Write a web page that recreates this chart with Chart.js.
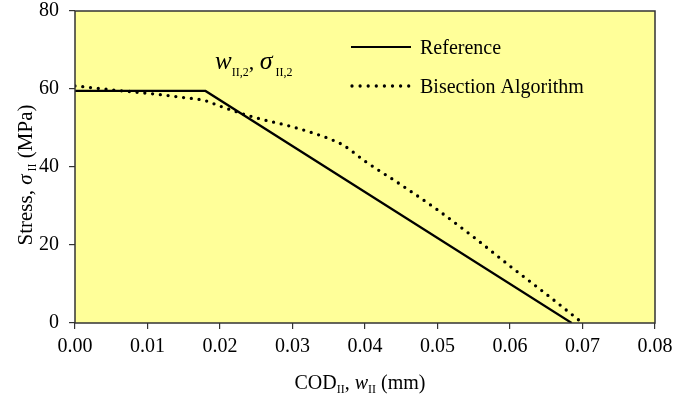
<!DOCTYPE html>
<html>
<head>
<meta charset="utf-8">
<script src="https://cdn.jsdelivr.net/npm/chart.js@4"></script>
<style>
  html, body { margin: 0; padding: 0; background: #fff; }
  #wrap { width: 688px; height: 395px; }
</style>
</head>
<body>
<div id="wrap"><canvas id="c"></canvas></div>
<script>
// data
const refX = [0, 0.018, 0.0685];
const refY = [59.5, 59.5, 0];
const bisX = [0, 0.005, 0.01, 0.015, 0.018, 0.02, 0.025, 0.03, 0.035, 0.037, 0.04, 0.045, 0.05, 0.055, 0.06, 0.065, 0.07];
const bisY = [60.8, 59.8, 58.9, 57.8, 57.0, 55.6, 52.6, 50.3, 47.3, 45.6, 41.5, 35.4, 29.0, 22.0, 14.6, 7.4, 0];
const xTicks = [0, 0.01, 0.02, 0.03, 0.04, 0.05, 0.06, 0.07, 0.08];
const yTicks = [0, 20, 40, 60, 80];

const serif = '"Liberation Serif", "Times New Roman", serif';

function pts(xs, ys) {
    return xs.map((x, i) => ({ x: x, y: ys[i] }));
}

// yellow plot area + box frame
const frame = {
    id: 'frame',
    beforeDatasetsDraw(chart) {
        const a = chart.chartArea, ctx = chart.ctx;
        ctx.save();
        ctx.fillStyle = '#ffff99';
        ctx.fillRect(a.left, a.top, a.right - a.left, a.bottom - a.top);
        ctx.restore();
    },
    afterDatasetsDraw(chart) {
        const a = chart.chartArea, ctx = chart.ctx;
        ctx.save();
        ctx.strokeStyle = '#333';
        ctx.lineWidth = 1.5;
        ctx.strokeRect(a.left, a.top, a.right - a.left, a.bottom - a.top);
        ctx.restore();
    }
};

// text with subscripts: parts = [[text, font, dy]]
function drawParts(ctx, parts, x, y, align) {
    let total = 0;
    parts.forEach(p => { ctx.font = p[1]; total += ctx.measureText(p[0]).width; });
    let cx = align === 'center' ? x - total / 2 : x;
    parts.forEach(p => {
        ctx.font = p[1];
        ctx.fillText(p[0], cx, y + (p[2] || 0));
        cx += ctx.measureText(p[0]).width;
    });
}

const labels = {
    id: 'labels',
    afterDraw(chart) {
        const ctx = chart.ctx;
        ctx.save();
        ctx.fillStyle = '#000';
        ctx.textBaseline = 'alphabetic';
        ctx.textAlign = 'left';

        // legend
        ctx.strokeStyle = '#000';
        ctx.lineWidth = 2.2;
        ctx.beginPath();
        ctx.moveTo(351, 47); ctx.lineTo(411, 47);
        ctx.stroke();
        ctx.lineWidth = 3.3;
        ctx.lineCap = 'round';
        ctx.setLineDash([0, 8.1]);
        ctx.beginPath();
        ctx.moveTo(352, 86); ctx.lineTo(410, 86);
        ctx.stroke();
        ctx.setLineDash([]);
        ctx.font = '20px ' + serif;
        ctx.fillText('Reference', 420, 54);
        ctx.fillText('Bisection Algorithm', 420, 93);

        // point annotation
        drawParts(ctx, [
            ['w', 'italic 25px ' + serif, 0],
            ['II,2', '12px ' + serif, 7],
            [', ', '22px ' + serif, 0],
            ['\u03c3', 'italic 26px ' + serif, 0],
            [' II,2', '12px ' + serif, 7]
        ], 215, 69, 'left');

        // x title
        drawParts(ctx, [
            ['COD', '20px ' + serif, 0],
            ['II', '12px ' + serif, 4],
            [', ', '20px ' + serif, 0],
            ['w', 'italic 20px ' + serif, 0],
            ['II', '12px ' + serif, 4],
            [' (mm)', '20px ' + serif, 0]
        ], 360, 389, 'center');

        // y title
        ctx.translate(32, 175);
        ctx.rotate(-Math.PI / 2);
        drawParts(ctx, [
            ['Stress, ', '21px ' + serif, 0],
            ['\u03c3', 'italic 21px ' + serif, 0],
            [' II', '12px ' + serif, 4],
            [' (MPa)', '21px ' + serif, 0]
        ], 0, 0, 'center');
        ctx.restore();
    }
};

new Chart(document.getElementById('c'), {
    type: 'scatter',
    data: {
        datasets: [
            {
                label: 'Reference',
                data: pts(refX, refY),
                showLine: true,
                borderColor: '#000',
                borderWidth: 2.2,
                pointRadius: 0,
                tension: 0
            },
            {
                label: 'Bisection Algorithm',
                data: pts(bisX, bisY),
                showLine: true,
                borderColor: '#000',
                borderWidth: 3.3,
                borderCapStyle: 'round',
                borderDash: [0, 7.8],
                pointRadius: 0,
                cubicInterpolationMode: 'monotone'
            }
        ]
    },
    options: {
        responsive: true,
        maintainAspectRatio: false,
        animation: false,
        layout: { padding: { left: 0, right: 33, top: 11, bottom: 0 } },
        plugins: {
            legend: { display: false },
            tooltip: { enabled: false }
        },
        scales: {
            x: {
                type: 'linear',
                min: 0,
                max: 0.08,
                afterBuildTicks: s => { s.ticks = xTicks.map(v => ({ value: v })); },
                afterFit: s => {
                    s.height = 72;
                    s.paddingLeft = 0; s.paddingRight = 0;
                },
                grid: { drawOnChartArea: false, tickLength: 6, color: '#333', lineWidth: 1.2 },
                border: { display: false },
                ticks: {
                    color: '#000',
                    padding: 6,
                    font: { family: serif, size: 20 },
                    callback: v => v.toFixed(2)
                }
            },
            y: {
                min: 0,
                max: 80,
                afterBuildTicks: s => { s.ticks = yTicks.map(v => ({ value: v })); },
                afterFit: s => {
                    s.width = 75;
                    s.paddingTop = 0; s.paddingBottom = 0;
                },
                grid: { drawOnChartArea: false, tickLength: 6, color: '#333', lineWidth: 1.2 },
                border: { display: false },
                ticks: {
                    color: '#000',
                    padding: 10,
                    font: { family: serif, size: 20 }
                }
            }
        }
    },
    plugins: [frame, labels]
});
</script>
</body>
</html>
